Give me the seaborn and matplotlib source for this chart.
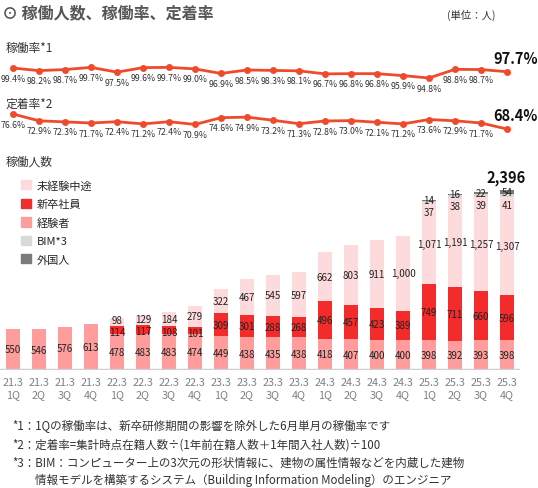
import matplotlib
matplotlib.use("Agg")
import matplotlib.pyplot as plt
from matplotlib.patches import Patch
import seaborn as sns
import numpy as np
import pandas as pd

quarters = ["21.3\n1Q", "21.3\n2Q", "21.3\n3Q", "21.3\n4Q",
            "22.3\n1Q", "22.3\n2Q", "22.3\n3Q", "22.3\n4Q",
            "23.3\n1Q", "23.3\n2Q", "23.3\n3Q", "23.3\n4Q",
            "24.3\n1Q", "24.3\n2Q", "24.3\n3Q", "24.3\n4Q",
            "25.3\n1Q", "25.3\n2Q", "25.3\n3Q", "25.3\n4Q"]

utilization = [99.4, 98.2, 98.7, 99.7, 97.5, 99.6, 99.7, 99.0, 96.9, 98.5,
               98.3, 98.1, 96.7, 96.8, 96.8, 95.9, 94.8, 98.8, 98.7, 97.7]
retention = [76.6, 72.9, 72.3, 71.7, 72.4, 71.2, 72.4, 70.9, 74.6, 74.9,
             73.2, 71.3, 72.8, 73.0, 72.1, 71.2, 73.6, 72.9, 71.7, 68.4]

experienced = [550, 546, 576, 613, 478, 483, 483, 474, 449, 438,
               435, 438, 418, 407, 400, 400, 398, 392, 393, 398]
new_grad = [0, 0, 0, 0, 114, 117, 108, 101, 309, 301,
            288, 268, 496, 457, 423, 389, 749, 711, 660, 596]
mid_career = [0, 0, 0, 0, 98, 129, 184, 279, 322, 467,
              545, 597, 662, 803, 911, 1000, 1071, 1191, 1257, 1307]
bim = [0] * 16 + [37, 38, 39, 41]
foreign = [0] * 16 + [14, 16, 22, 54]

seg_names = ["経験者", "新卒社員", "未経験中途", "BIM*3", "外国人"]
seg_colors = ["#ff9d9d", "#f42b2b", "#fddadc", "#d9d9d9", "#7a7a7a"]

sns.set_style("white")
plt.rcParams["font.family"] = ["Noto Sans CJK JP", "DejaVu Sans"]

W, H = 538, 489
LINE = "#ef4b2b"
TXT = "#333333"

fig = plt.figure(figsize=(W / 100, H / 100), dpi=100)


def box(top, bottom):
    return [0, 1 - bottom / H, 520 / W, (bottom - top) / H]


x = np.arange(len(quarters))

# --- 稼働率
ax_u = fig.add_axes(box(50, 95))
sns.lineplot(x=x, y=utilization, ax=ax_u, color=LINE, lw=2, marker="o",
             markersize=5, markeredgewidth=0)
for i, v in enumerate(utilization[:-1]):
    ax_u.annotate(f"{v:.1f}%", (i, v), xytext=(0, -4), textcoords="offset points",
                  ha="center", va="top", fontsize=6.3, color=TXT)
ax_u.annotate(f"{utilization[-1]:.1f}%", (19, utilization[-1]), xytext=(6, 4),
              textcoords="offset points", ha="center", va="bottom",
              fontsize=10.5, fontweight="bold", color="#111111")
ax_u.set_ylim(87.4, 108.2)

# --- 定着率
ax_r = fig.add_axes(box(100, 150))
sns.lineplot(x=x, y=retention, ax=ax_r, color=LINE, lw=2, marker="o",
             markersize=5, markeredgewidth=0)
for i, v in enumerate(retention[:-1]):
    ax_r.annotate(f"{v:.1f}%", (i, v), xytext=(0, -4), textcoords="offset points",
                  ha="center", va="top", fontsize=6.3, color=TXT)
ax_r.annotate(f"{retention[-1]:.1f}%", (19, retention[-1]), xytext=(6, 4),
              textcoords="offset points", ha="center", va="bottom",
              fontsize=10.5, fontweight="bold", color="#111111")
ax_r.set_ylim(57.5, 84.8)

for ax in (ax_u, ax_r):
    ax.set_xlim(-0.5, 19.5)
    ax.axis("off")

# --- 稼働人数 (stacked via cumulative overlays)
ax_b = fig.add_axes(box(160, 371))
segs = [experienced, new_grad, mid_career, bim, foreign]
cum = np.cumsum(np.array(segs), axis=0)
df = pd.DataFrame({"quarter": quarters})
for k in range(len(segs) - 1, -1, -1):
    df["v"] = cum[k]
    sns.barplot(data=df, x="quarter", y="v", color=seg_colors[k], width=0.52,
                saturation=1, ax=ax_b, edgecolor="none")

for k, seg in enumerate(segs):
    for i, v in enumerate(seg):
        if v == 0:
            continue
        mid = cum[k][i] - v / 2
        dy = 0
        if k == 3:
            dy = -7
        elif k == 1 and v < 150:
            dy = -1.5
        elif k == 2 and v < 150:
            dy = 1
        ax_b.annotate(f"{v:,}", (i, mid), xytext=(0, dy),
                      textcoords="offset points", ha="center", va="center",
                      fontsize=7, color="#222222")
ax_b.annotate(f"{cum[-1][-1]:,}", (19, cum[-1][-1]), xytext=(-1, 3.5),
              textcoords="offset points", ha="center", va="bottom",
              fontsize=10.5, fontweight="bold", color="#111111")

ax_b.set_xlim(-0.5, 19.5)
ax_b.set_ylim(0, 2810)
ax_b.axhline(0, color="#d0d0d0", lw=2.5)
sns.despine(ax=ax_b, left=True, bottom=True)
ax_b.set_yticks([])
ax_b.set_xlabel("")
ax_b.set_ylabel("")
ax_b.set_xticks(x)
ax_b.set_xticklabels(quarters, fontsize=7.8, color="#808080", linespacing=1.3)
ax_b.tick_params(axis="x", length=0, pad=5)

handles = [Patch(color=seg_colors[k], label=seg_names[k]) for k in [2, 1, 0, 3, 4]]
ax_b.legend(handles=handles, loc="upper left", bbox_to_anchor=(21 / W, 1 - 181 / H),
            bbox_transform=fig.transFigure, frameon=False, fontsize=8,
            handlelength=0.9, handleheight=0.9, handletextpad=0.5,
            labelspacing=0.72, borderaxespad=0, borderpad=0)

# --- texts
fig.text(2 / W, 1 - 13 / H, "⊙ 稼働人数、稼働率、定着率", fontsize=11.5,
         fontweight="bold", color="#555555", va="center")
fig.text(447 / W, 1 - 15 / H, "(単位：人)", fontsize=7.5, color=TXT, va="center")
fig.text(6 / W, 1 - 48 / H, "稼働率*1", fontsize=8.5, color=TXT, va="center")
fig.text(6 / W, 1 - 104 / H, "定着率*2", fontsize=8.5, color=TXT, va="center")
fig.text(6 / W, 1 - 162 / H, "稼働人数", fontsize=8.5, color=TXT, va="center")

notes = ["*1：1Qの稼働率は、新卒研修期間の影響を除外した6月単月の稼働率です",
         "*2：定着率=集計時点在籍人数÷(1年前在籍人数＋1年間入社人数)÷100",
         "*3：BIM：コンピューター上の3次元の形状情報に、建物の属性情報などを内蔵した建物",
         "　　情報モデルを構築するシステム（Building Information Modeling）のエンジニア"]
for j, t in enumerate(notes):
    fig.text(12 / W, 1 - (427 + 18 * j) / H, t, fontsize=8.3, color=TXT, va="center")

fig.savefig("out.png", dpi=100)
